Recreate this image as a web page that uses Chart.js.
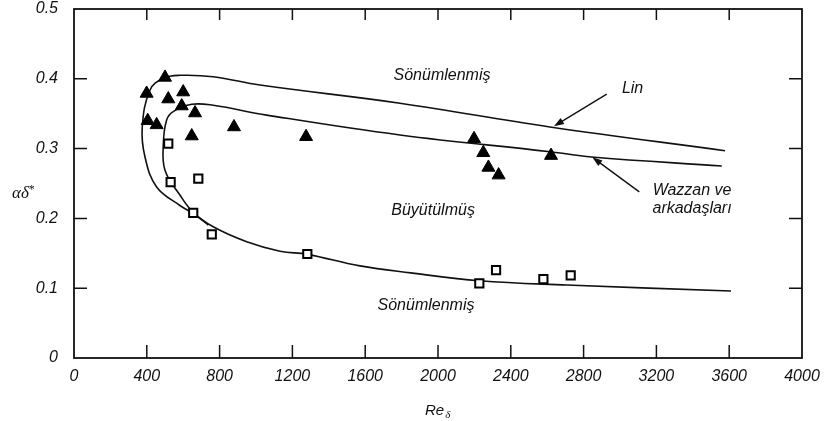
<!DOCTYPE html>
<html lang="tr">
<head>
<meta charset="UTF-8">
<script src="https://cdn.jsdelivr.net/npm/chart.js@4"></script>
<title>Nötr kararlılık eğrisi</title>
<style>
  html, body { margin: 0; padding: 0; background: #fff; }
  #grafik { display: block; }
</style>
</head>
<body>
<canvas id="grafik" width="829" height="421"></canvas>

<script>
  // eksen aralıkları
  const reTicks = [0, 400, 800, 1200, 1600, 2000, 2400, 2800, 3200, 3600, 4000];
  const alfaTicks = [0, 0.1, 0.2, 0.3, 0.4, 0.5];

  // deney noktaları - dolu üçgenler
  const ucgenRe   = [399, 500, 518, 600, 592, 665, 405, 454, 647, 879, 1275, 2198, 2249, 2277, 2333, 2621];
  const ucgenAlfa = [0.379, 0.402, 0.371, 0.381, 0.361, 0.351, 0.340, 0.334, 0.318, 0.331, 0.317, 0.314, 0.294, 0.273, 0.262, 0.290];

  // deney noktaları - içi boş kareler
  const kareRe   = [518, 683, 531, 655, 757, 1282, 2227, 2319, 2579, 2729];
  const kareAlfa = [0.307, 0.257, 0.252, 0.208, 0.177, 0.149, 0.107, 0.126, 0.113, 0.1185];

  // Lin eğrisi (alt koldaki kısa uçtan burun üzerinden sağa)
  const linRe   = [738, 655, 582, 454, 390, 375, 418, 491, 582, 765, 1022, 1791, 2615, 3577];
  const linAlfa = [0.1905, 0.207, 0.2185, 0.245, 0.288, 0.331, 0.384, 0.4007, 0.405, 0.403, 0.391, 0.365, 0.331, 0.297];

  // Wazzan ve arkadaşları eğrisi (üst koldan burun üzerinden alt kola)
  const wazzanRe   = [3559, 2844, 2615, 1791, 1059, 765, 647, 545, 509, 491, 500, 582, 655, 765, 949, 1132, 1282, 1571, 1850, 2227, 2707, 3610];
  const wazzanAlfa = [0.275, 0.288, 0.2955, 0.3195, 0.348, 0.362, 0.3635, 0.353, 0.341, 0.3075, 0.269, 0.2335, 0.2087, 0.188, 0.1666, 0.153, 0.1485, 0.132, 0.122, 0.1107, 0.1046, 0.096];

  // bölge yazıları
  const notMetin = ['Sönümlenmiş', 'Büyütülmüş', 'Sönümlenmiş', 'Lin', 'Wazzan ve', 'arkadaşları'];
  const notRe    = [2022, 1973, 1934, 3069, 3396, 3396];
  const notAlfa  = [0.404, 0.211, 0.0745, 0.386, 0.2397, 0.2145];

  // oklar: [baslangicRe, baslangicAlfa, ucRe, ucAlfa]
  const oklar = [
    [2927, 0.378, 2637, 0.332],
    [3106, 0.238, 2848, 0.2875]
  ];

  const siyah = '#111';
  const yaziTipi = '"Liberation Sans", Arial, sans-serif';

  function noktalar(xs, ys) {
    return xs.map((x, i) => ({ x: x, y: ys[i] }));
  }

  // çerçeve, içe dönük çentikler, yazılar ve oklar
  const cizimler = {
    id: 'cizimler',
    afterDraw(chart) {
      const ctx = chart.ctx;
      const a = chart.chartArea;
      const sx = chart.scales.x;
      const sy = chart.scales.y;

      ctx.save();
      ctx.strokeStyle = siyah;
      ctx.lineWidth = 1.8;
      ctx.strokeRect(a.left, a.top, a.right - a.left, a.bottom - a.top);

      // çentikler
      ctx.lineWidth = 1.5;
      ctx.beginPath();
      reTicks.slice(1, -1).forEach(v => {
        const px = sx.getPixelForValue(v);
        ctx.moveTo(px, a.bottom); ctx.lineTo(px, a.bottom - 13);
        ctx.moveTo(px, a.top); ctx.lineTo(px, a.top + 11);
      });
      alfaTicks.slice(1, -1).forEach(v => {
        const py = sy.getPixelForValue(v);
        ctx.moveTo(a.left, py); ctx.lineTo(a.left + 13, py);
        ctx.moveTo(a.right, py); ctx.lineTo(a.right - 13, py);
      });
      ctx.stroke();

      // bölge yazıları
      ctx.fillStyle = siyah;
      ctx.font = 'italic 16px ' + yaziTipi;
      ctx.textAlign = 'center';
      ctx.textBaseline = 'middle';
      notMetin.forEach((t, i) => {
        ctx.fillText(t, sx.getPixelForValue(notRe[i]), sy.getPixelForValue(notAlfa[i]));
      });

      // oklar
      ctx.lineWidth = 1.4;
      oklar.forEach(o => {
        const x0 = sx.getPixelForValue(o[0]), y0 = sy.getPixelForValue(o[1]);
        const x1 = sx.getPixelForValue(o[2]), y1 = sy.getPixelForValue(o[3]);
        const aci = Math.atan2(y1 - y0, x1 - x0);
        ctx.beginPath();
        ctx.moveTo(x0, y0);
        ctx.lineTo(x1 - Math.cos(aci) * 6, y1 - Math.sin(aci) * 6);
        ctx.stroke();
        ctx.beginPath();
        ctx.moveTo(x1, y1);
        ctx.lineTo(x1 - Math.cos(aci) * 10 + Math.sin(aci) * 3.5, y1 - Math.sin(aci) * 10 - Math.cos(aci) * 3.5);
        ctx.lineTo(x1 - Math.cos(aci) * 10 - Math.sin(aci) * 3.5, y1 - Math.sin(aci) * 10 + Math.cos(aci) * 3.5);
        ctx.closePath();
        ctx.fill();
      });

      // x ekseni başlığı: Re_δ
      const orta = (a.left + a.right) / 2;
      ctx.textAlign = 'left';
      ctx.textBaseline = 'alphabetic';
      ctx.font = 'italic 15px ' + yaziTipi;
      const reW = ctx.measureText('Re').width;
      ctx.fillText('Re', orta - 13, 415);
      ctx.font = 'italic 11px "Liberation Serif", serif';
      ctx.fillText('δ', orta - 13 + reW + 1, 418);

      // y ekseni başlığı: αδ*
      ctx.font = 'italic 17px "Liberation Serif", serif';
      const adW = ctx.measureText('αδ').width;
      ctx.fillText('αδ', 12, 198);
      ctx.font = '12px "Liberation Serif", serif';
      ctx.fillText('*', 12 + adW, 193);
      ctx.restore();
    }
  };

  const config = {
    type: 'scatter',
    data: {
      datasets: [
        {
          label: 'üçgen',
          data: noktalar(ucgenRe, ucgenAlfa),
          pointStyle: 'triangle',
          pointRadius: 7.5,
          backgroundColor: '#000',
          borderColor: '#000',
          borderWidth: 1,
          order: 0
        },
        {
          label: 'kare',
          data: noktalar(kareRe, kareAlfa),
          pointStyle: 'rect',
          pointRadius: 5.8,
          backgroundColor: '#fff',
          borderColor: '#000',
          borderWidth: 2,
          order: 0
        },
        {
          label: 'Lin',
          data: noktalar(linRe, linAlfa),
          showLine: true,
          tension: 0.4,
          pointRadius: 0,
          borderColor: siyah,
          borderWidth: 1.6,
          order: 1
        },
        {
          label: 'Wazzan ve arkadaşları',
          data: noktalar(wazzanRe, wazzanAlfa),
          showLine: true,
          tension: 0.4,
          pointRadius: 0,
          borderColor: siyah,
          borderWidth: 1.6,
          order: 1
        }
      ]
    },
    options: {
      responsive: false,
      animation: false,
      events: [],
      layout: { padding: { left: 0, top: 9, right: 27, bottom: 0 } },
      plugins: {
        legend: { display: false },
        tooltip: { enabled: false }
      },
      scales: {
        x: {
          type: 'linear',
          min: 0,
          max: 4000,
          afterBuildTicks: s => { s.ticks = reTicks.map(v => ({ value: v })); },
          afterFit: s => { s.height = 63; s.paddingLeft = 0; s.paddingRight = 0; },
          grid: { drawOnChartArea: false, drawTicks: false },
          border: { display: false },
          ticks: {
            padding: 9,
            maxRotation: 0,
            color: siyah,
            font: { family: yaziTipi, size: 16, style: 'italic' },
            callback: v => String(v)
          }
        },
        y: {
          type: 'linear',
          min: 0,
          max: 0.5,
          afterBuildTicks: s => { s.ticks = alfaTicks.map(v => ({ value: v })); },
          // etiket boşluğu üst kenarı aşağı itmesin
          afterFit: s => { s.width = 74; s.paddingTop = 0; s.paddingBottom = 0; },
          grid: { drawOnChartArea: false, drawTicks: false },
          border: { display: false },
          ticks: {
            padding: 16,
            color: siyah,
            font: { family: yaziTipi, size: 16, style: 'italic' },
            callback: v => (v === 0 ? '0' : v.toFixed(1))
          }
        }
      }
    },
    plugins: [cizimler]
  };

  let grafik = new Chart(document.getElementById('grafik'), config);
</script>
</body>
</html>
